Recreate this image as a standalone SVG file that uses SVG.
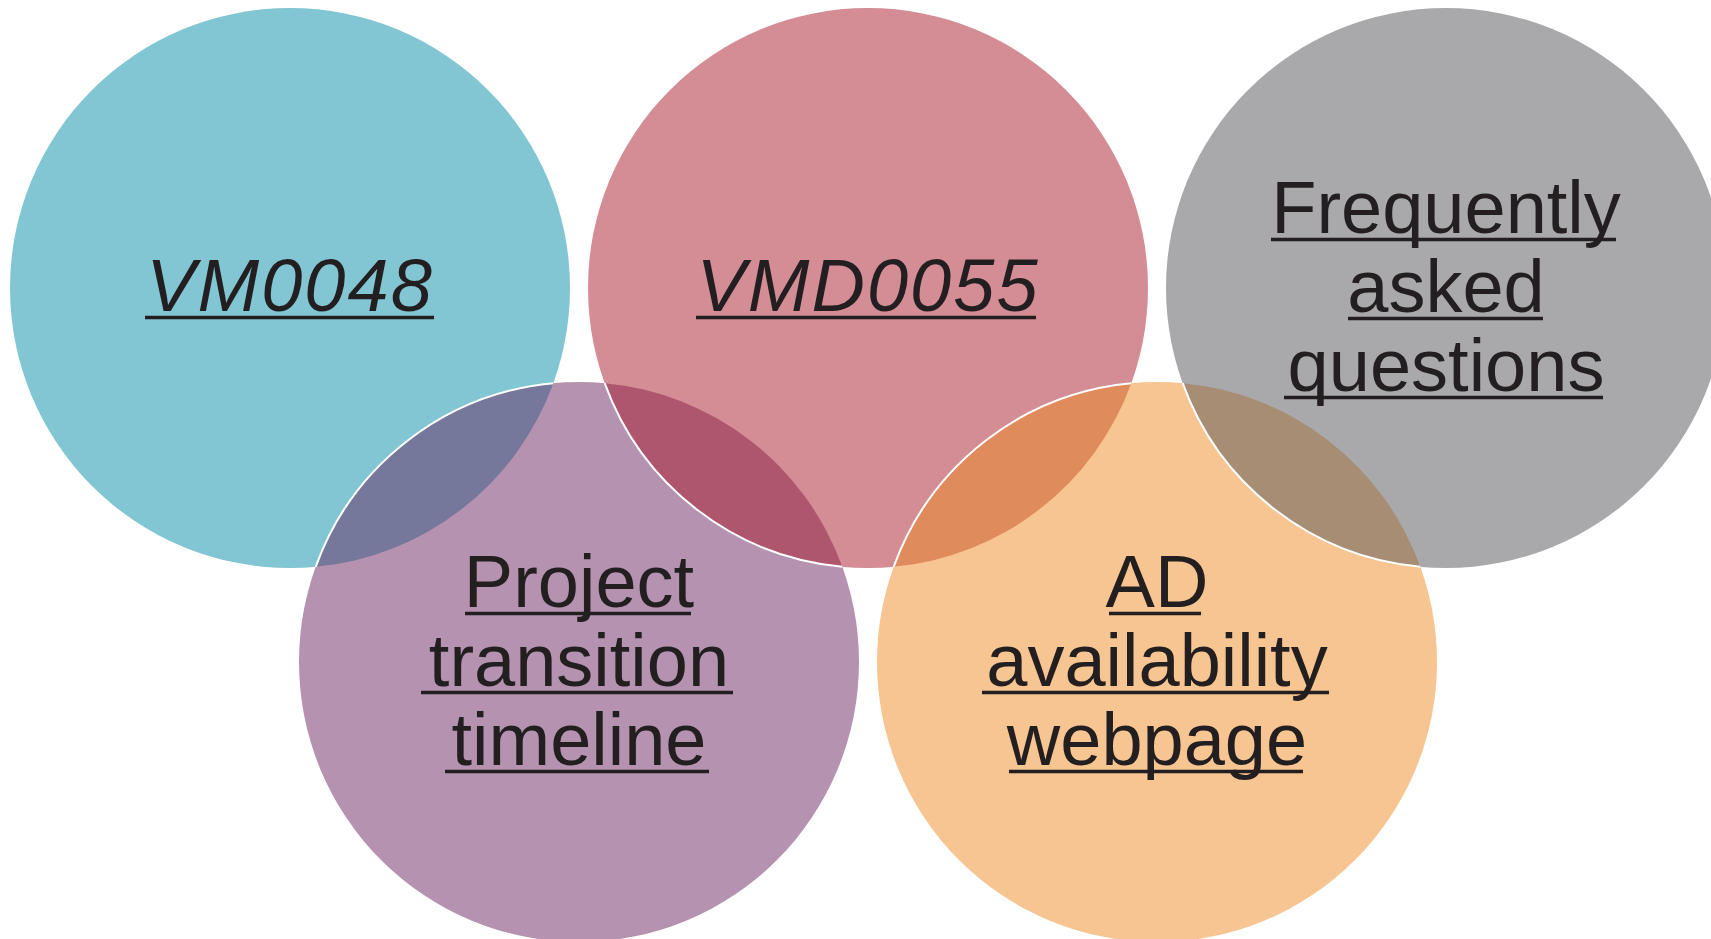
<svg xmlns="http://www.w3.org/2000/svg" width="1711" height="939" viewBox="0 0 1711 939">
  <style>
    .lbl { font-family: "Liberation Sans", Arial, sans-serif; font-size: 74px; fill: #231F20; text-anchor: middle; }
    .it { font-style: italic; letter-spacing: 2px; }
    .ul { stroke: #231F20; stroke-width: 3.5; }
    .edge { fill: none; stroke: #FFFFFF; stroke-width: 2; }
  </style>
  <rect width="1711" height="939" fill="#FFFFFF"/>
  <g id="node-vm0048">
    <circle cx="290" cy="288" r="280" fill="#82C6D3"/>
    <text class="lbl it" x="290" y="311">VM0048</text>
    <line class="ul" x1="145" y1="317.5" x2="434" y2="317.5"/>
  </g>
  <g id="node-project-transition">
    <circle cx="579" cy="662" r="280" fill="#B492B0"/>
    <text class="lbl" x="579" y="607">Project</text>
    <text class="lbl" x="579" y="686">transition</text>
    <text class="lbl" x="579" y="765">timeline</text>
    <line class="ul" x1="465" y1="613.5" x2="691" y2="613.5"/>
    <line class="ul" x1="421" y1="692.5" x2="733" y2="692.5"/>
    <line class="ul" x1="445" y1="771.5" x2="709" y2="771.5"/>
  </g>
  <g id="node-vmd0055">
    <circle cx="868" cy="288" r="280" fill="#D48C95"/>
    <text class="lbl it" x="868" y="311">VMD0055</text>
    <line class="ul" x1="696" y1="317.5" x2="1036" y2="317.5"/>
  </g>
  <g id="node-ad-availability">
    <circle cx="1157" cy="662" r="280" fill="#F7C591"/>
    <text class="lbl" x="1157" y="607">AD</text>
    <text class="lbl" x="1157" y="686">availability</text>
    <text class="lbl" x="1157" y="765">webpage</text>
    <line class="ul" x1="1109" y1="613.5" x2="1201" y2="613.5"/>
    <line class="ul" x1="982" y1="692.5" x2="1329" y2="692.5"/>
    <line class="ul" x1="1009" y1="771.5" x2="1303" y2="771.5"/>
  </g>
  <g id="node-faq">
    <circle cx="1446" cy="288" r="280" fill="#A9A9AB"/>
    <text class="lbl" x="1446" y="233">Frequently</text>
    <text class="lbl" x="1446" y="312">asked</text>
    <text class="lbl" x="1446" y="391">questions</text>
    <line class="ul" x1="1271" y1="239.5" x2="1616" y2="239.5"/>
    <line class="ul" x1="1348" y1="318.5" x2="1543" y2="318.5"/>
    <line class="ul" x1="1284" y1="397.5" x2="1603" y2="397.5"/>
  </g>
  <g id="overlaps">
    <path d="M553.32,383.18 A280,280 0 0,0 315.68,566.82 A280,280 0 0,0 553.32,383.18 Z" fill="#75789B"/>
    <path d="M604.68,383.18 A280,280 0 0,0 842.32,566.82 A280,280 0 0,0 604.68,383.18 Z" fill="#AE566E"/>
    <path d="M1131.32,383.18 A280,280 0 0,0 893.68,566.82 A280,280 0 0,0 1131.32,383.18 Z" fill="#E08B5C"/>
    <path d="M1182.68,383.18 A280,280 0 0,0 1420.32,566.82 A280,280 0 0,0 1182.68,383.18 Z" fill="#A68D74"/>
    <path class="edge" d="M553.32,383.18 A280,280 0 0,0 315.68,566.82"/>
    <path class="edge" d="M604.68,383.18 A280,280 0 0,0 842.32,566.82"/>
    <path class="edge" d="M1131.32,383.18 A280,280 0 0,0 893.68,566.82"/>
    <path class="edge" d="M1182.68,383.18 A280,280 0 0,0 1420.32,566.82"/>
  </g>
</svg>
